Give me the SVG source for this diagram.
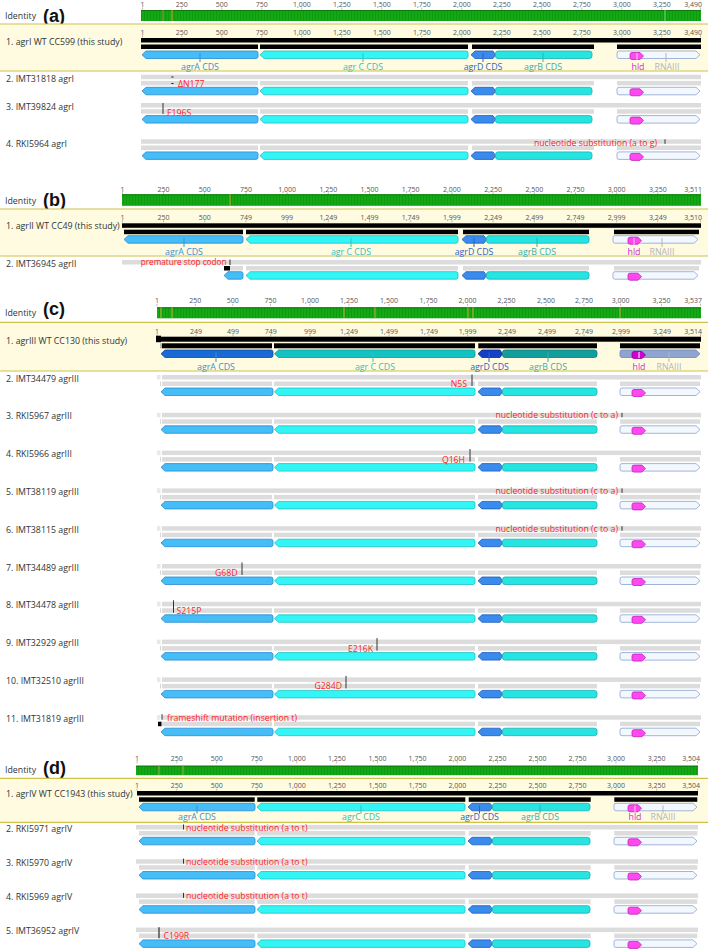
<svg xmlns="http://www.w3.org/2000/svg" width="708" height="952" viewBox="0 0 708 952">
<defs>
<style>
text{font-family:"Open Sans","Noto Sans","DejaVu Sans",sans-serif}
.rl{font-size:7px;fill:#555;text-anchor:middle}
.rle{font-size:7px;fill:#555;text-anchor:end}
.lb{font-size:8.8px;fill:#333}
.hd{font-family:"Liberation Sans",Arial,sans-serif;font-size:18px;font-weight:bold;fill:#111}
.mu{font-size:8.7px;fill:#ff2424}
.mue{font-size:8.7px;fill:#ff2424;text-anchor:end}
.gl{font-size:8.8px;text-anchor:middle}
.band{fill:#fefbe1}
.bl{stroke:#cfc24a;stroke-width:1.2}
.gr{fill:#dcdcdc}
.k{fill:#000}
.tk{stroke:#999;stroke-width:.7;fill:none}
.mt{stroke:#333;stroke-width:1}
.idb{fill:url(#idp)}
.idl{stroke:#0b7a0b;stroke-width:1}
.gA{fill:#45bdf6;stroke:#2a8ad4;stroke-width:.8}
.gC{fill:#33f5f5;stroke:#1fc2c2;stroke-width:.8}
.gD{fill:#3a8cec;stroke:#1c5cc2;stroke-width:.8}
.gB{fill:#26e4e2;stroke:#17b2b0;stroke-width:.8}
.gR{fill:#f3f8fe;stroke:#8aa3cf;stroke-width:.8}
.gH{fill:#ff48ee;stroke:#c21fc2;stroke-width:.8}
.sA{fill:#1a6ad6;stroke:#0d4aa0;stroke-width:.8}
.sC{fill:#13c2c2;stroke:#0c9999;stroke-width:.8}
.sD{fill:#1541c8;stroke:#0c2a90;stroke-width:.8}
.sB{fill:#139e9e;stroke:#0c7a7a;stroke-width:.8}
.sR{fill:#8fa4d0;stroke:#7088b8;stroke-width:.8}
.sH{fill:#d000d0;stroke:#990099;stroke-width:.8}
.cA{fill:#3d8fd6}.cC{fill:#33c0c0}.cD{fill:#2e62c8}.cB{fill:#3aacac}.cH{fill:#cc2fcc}.cR{fill:#b5b5b5}
.lA{stroke:#3d8fd6;stroke-width:1}.lC{stroke:#33c0c0;stroke-width:1}.lD{stroke:#2e62c8;stroke-width:1}.lB{stroke:#3aacac;stroke-width:1}.lH{stroke:#f0d0f0;stroke-width:1}.lR{stroke:#b5b5b5;stroke-width:1}
</style>
<pattern id="idp" width="3" height="14" patternUnits="userSpaceOnUse"><rect width="3" height="14" fill="#14a914"/><rect width="1" height="14" fill="#0f9b0f"/></pattern>

<g id="genesA">
<path class="gA" d="M142,3.75 L146,0 H256 Q258,0 258,2 V5.5 Q258,7.5 256,7.5 H146 Z"/>
<path class="gC" d="M260,3.75 L264,0 H466 Q468,0 468,2 V5.5 Q468,7.5 466,7.5 H264 Z"/>
<path class="gD" d="M471,3.75 L475,0 H493 L495.5,3.75 L493,7.5 H475 Z"/>
<rect class="gB" x="495.5" y="0" width="96.5" height="7.5" rx="2.5"/>
<path class="gR" d="M619,0 H696 L700,3.75 L696,7.5 H619 Q617,7.5 617,5.5 V2 Q617,0 619,0 Z"/>
<path class="gH" d="M632,1.5 H640 L643.5,5 L640,8.5 H632 Q630,8.5 630,6.5 V3.5 Q630,1.5 632,1.5 Z"/>
</g>
<g id="genesBrest">
<path class="gC" d="M246,3.75 L250,0 H456 Q458,0 458,2 V5.5 Q458,7.5 456,7.5 H250 Z"/>
<path class="gD" d="M462,3.75 L466,0 H484 L486.5,3.75 L484,7.5 H466 Z"/>
<rect class="gB" x="486.5" y="0" width="102.5" height="7.5" rx="2.5"/>
<path class="gR" d="M615,0 H694 L698,3.75 L694,7.5 H615 Q613,7.5 613,5.5 V2 Q613,0 615,0 Z"/>
<path class="gH" d="M630,1.5 H638 L641.5,5 L638,8.5 H630 Q628,8.5 628,6.5 V3.5 Q628,1.5 630,1.5 Z"/>
</g>
<g id="genesB">
<path class="gA" d="M124,3.75 L128,0 H241 Q243,0 243,2 V5.5 Q243,7.5 241,7.5 H128 Z"/>
<use href="#genesBrest"/>
</g>
<g id="genesC">
<path class="gA" d="M161,3.75 L165,0 H271 Q273,0 273,2 V5.5 Q273,7.5 271,7.5 H165 Z"/>
<path class="gC" d="M274.5,3.75 L278.5,0 H473 Q475,0 475,2 V5.5 Q475,7.5 473,7.5 H278.5 Z"/>
<path class="gD" d="M478,3.75 L482,0 H500 L502.5,3.75 L500,7.5 H482 Z"/>
<rect class="gB" x="502.5" y="0" width="94.5" height="7.5" rx="2.5"/>
<path class="gR" d="M622,0 H696 L700,3.75 L696,7.5 H622 Q620,7.5 620,5.5 V2 Q620,0 622,0 Z"/>
<path class="gH" d="M634,1.5 H642 L645.5,5 L642,8.5 H634 Q632,8.5 632,6.5 V3.5 Q632,1.5 634,1.5 Z"/>
</g>
<g id="genesCsel">
<path class="sA" d="M161,3.75 L165,0 H271 Q273,0 273,2 V5.5 Q273,7.5 271,7.5 H165 Z"/>
<path class="sC" d="M274.5,3.75 L278.5,0 H473 Q475,0 475,2 V5.5 Q475,7.5 473,7.5 H278.5 Z"/>
<path class="sD" d="M478,3.75 L482,0 H500 L502.5,3.75 L500,7.5 H482 Z"/>
<rect class="sB" x="502.5" y="0" width="94.5" height="7.5" rx="2.5"/>
<path class="sR" d="M622,0 H696 L700,3.75 L696,7.5 H622 Q620,7.5 620,5.5 V2 Q620,0 622,0 Z"/>
<path class="sH" d="M634,1.5 H642 L645.5,5 L642,8.5 H634 Q632,8.5 632,6.5 V3.5 Q632,1.5 634,1.5 Z"/>
</g>
<g id="genesD">
<path class="gA" d="M139,3.75 L143,0 H253 Q255,0 255,2 V5.5 Q255,7.5 253,7.5 H143 Z"/>
<path class="gC" d="M257,3.75 L261,0 H463 Q465,0 465,2 V5.5 Q465,7.5 463,7.5 H261 Z"/>
<path class="gD" d="M468,3.75 L472,0 H490 L492.5,3.75 L490,7.5 H472 Z"/>
<rect class="gB" x="492.5" y="0" width="97.5" height="7.5" rx="2.5"/>
<path class="gR" d="M616,0 H693 L697,3.75 L693,7.5 H616 Q614,7.5 614,5.5 V2 Q614,0 616,0 Z"/>
<path class="gH" d="M630,1.5 H638 L641.5,5 L638,8.5 H630 Q628,8.5 628,6.5 V3.5 Q628,1.5 630,1.5 Z"/>
</g>

<g id="rowA">
<rect class="gr" x="141" y="0" width="560" height="4.5"/>
<rect class="gr" x="141" y="6.2" width="117" height="4.5"/>
<rect class="gr" x="260" y="6.2" width="208" height="4.5"/>
<rect class="gr" x="472" y="6.2" width="122" height="4.5"/>
<rect class="gr" x="617" y="6.2" width="84" height="4.5"/>
<use href="#genesA" y="12.6"/>
</g>
<g id="rowC">
<rect fill="#e8e8e8" x="157" y="0" width="3.5" height="4.5"/>
<rect class="gr" x="162" y="0" width="539" height="4.5"/>
<line x1="160.5" y1="6.5" x2="160.5" y2="11" stroke="#ccc" stroke-width=".8"/>
<rect class="gr" x="162" y="6.5" width="110" height="4.5"/>
<rect class="gr" x="274" y="6.5" width="201" height="4.5"/>
<rect class="gr" x="478" y="6.5" width="119" height="4.5"/>
<rect class="gr" x="620" y="6.5" width="80" height="4.5"/>
<use href="#genesC" y="13"/>
</g>
<g id="rowD">
<rect class="gr" x="136" y="0" width="562" height="4.5"/>
<rect class="gr" x="139" y="6" width="115.7" height="4.5"/>
<rect class="gr" x="257.3" y="6" width="208" height="4.5"/>
<rect class="gr" x="468.7" y="6" width="122" height="4.5"/>
<rect class="gr" x="614.3" y="6" width="83" height="4.5"/>
<use href="#genesD" y="12.3"/>
</g>
</defs>

<rect width="708" height="952" fill="#fff"/>

<!-- ===================== (a) ===================== -->
<g id="a-header">
<text class="rl" y="6.5"><tspan x="142.5">1</tspan><tspan x="181.8">250</tspan><tspan x="221.8">500</tspan><tspan x="261.8">750</tspan><tspan x="301.8">1,000</tspan><tspan x="341.8">1,250</tspan><tspan x="381.8">1,500</tspan><tspan x="421.8">1,750</tspan><tspan x="461.8">2,000</tspan><tspan x="501.8">2,250</tspan><tspan x="541.8">2,500</tspan><tspan x="581.8">2,750</tspan><tspan x="621.8">3,000</tspan><tspan x="661.8">3,250</tspan></text>
<text class="rle" x="702" y="6.5">3,490</text>
<path class="tk" d="M142.5,7.5v2M181.8,7.5v2M221.8,7.5v2M261.8,7.5v2M301.8,7.5v2M341.8,7.5v2M381.8,7.5v2M421.8,7.5v2M461.8,7.5v2M501.8,7.5v2M541.8,7.5v2M581.8,7.5v2M621.8,7.5v2M661.8,7.5v2M700.5,7.5v2"/>
<rect class="idb" x="141" y="10" width="560" height="11"/>
<line class="idl" x1="141" y1="10.5" x2="701" y2="10.5"/>
<path d="M163,10v11" stroke="#8a9a40" stroke-width="1"/>
<path d="M172,10v11" stroke="#d4a020" stroke-width="1"/>
<path d="M665,10v11" stroke="#7dd07d" stroke-width="1"/>
<text class="lb" x="5" y="18.5">Identity</text>
<text class="hd" x="43" y="21.5">(a)</text>
</g>

<g id="a-row1">
<rect class="band" x="0" y="24" width="708" height="47"/>
<line class="bl" x1="0" y1="24" x2="708" y2="24"/>
<line class="bl" x1="0" y1="71" x2="708" y2="71"/>
<text class="lb" x="6" y="45">1. agrI WT CC599 (this study)</text>
<text class="rl" y="34.5"><tspan x="142.5">1</tspan><tspan x="181.8">250</tspan><tspan x="221.8">500</tspan><tspan x="261.8">750</tspan><tspan x="301.8">1,000</tspan><tspan x="341.8">1,250</tspan><tspan x="381.8">1,500</tspan><tspan x="421.8">1,750</tspan><tspan x="461.8">2,000</tspan><tspan x="501.8">2,250</tspan><tspan x="541.8">2,500</tspan><tspan x="581.8">2,750</tspan><tspan x="621.8">3,000</tspan><tspan x="661.8">3,250</tspan></text>
<text class="rle" x="702" y="34.5">3,490</text>
<path class="tk" d="M142.5,35.3v2M181.8,35.3v2M221.8,35.3v2M261.8,35.3v2M301.8,35.3v2M341.8,35.3v2M381.8,35.3v2M421.8,35.3v2M461.8,35.3v2M501.8,35.3v2M541.8,35.3v2M581.8,35.3v2M621.8,35.3v2M661.8,35.3v2M700.5,35.3v2"/>
<rect class="k" x="141" y="38" width="560" height="4.5"/>
<rect class="k" x="141" y="44.5" width="117" height="4.5"/>
<rect class="k" x="260" y="44.5" width="208" height="4.5"/>
<rect class="k" x="472" y="44.5" width="122" height="4.5"/>
<rect class="k" x="617" y="44.5" width="84" height="4.5"/>
<use href="#genesA" y="51"/>
<line class="lA" x1="200" y1="53" x2="200" y2="62"/>
<line class="lC" x1="363" y1="53" x2="363" y2="62"/>
<line class="lD" x1="483" y1="53" x2="483" y2="62"/>
<line class="lB" x1="543" y1="53" x2="543" y2="62"/>
<line class="lH" x1="637" y1="53" x2="637" y2="60"/>
<line class="lR" x1="666" y1="53" x2="666" y2="62"/>
<text class="gl cA" x="200" y="69.5">agrA CDS</text>
<text class="gl cC" x="363" y="69.5">agr C CDS</text>
<text class="gl cD" x="483" y="69.5">agrD CDS</text>
<text class="gl cB" x="543" y="69.5">agrB CDS</text>
<text class="gl cH" x="638" y="69.5">hld</text>
<text class="gl cR" x="667" y="69.5">RNAIII</text>
</g>

<g id="a-row2">
<text class="lb" x="6" y="81.5">2. IMT31818 agrI</text>
<use href="#rowA" y="74.7"/>
<path d="M171.3,77H173.5M171.3,83.5H173.5" stroke="#222" stroke-width="1"/>
<text class="mu" x="178" y="86.5">ΔN177</text>
</g>
<g id="a-row3">
<text class="lb" x="6" y="110">3. IMT39824 agrI</text>
<use href="#rowA" y="103"/>
<line class="mt" x1="163" y1="103" x2="163" y2="114"/>
<text class="mu" x="167" y="115.5">F196S</text>
</g>
<g id="a-row4">
<text class="lb" x="6" y="146.5">4. RKI5964 agrI</text>
<use href="#rowA" y="139.3"/>
<line class="mt" x1="665" y1="139.3" x2="665" y2="143.8"/>
<text class="mue" x="657" y="145.5">nucleotide substitution (a to g)</text>
</g>

<!-- ===================== (b) ===================== -->
<g id="b-header">
<text class="rl" y="191.5"><tspan x="122.5">1</tspan><tspan x="163.5">250</tspan><tspan x="204.7">500</tspan><tspan x="245.9">750</tspan><tspan x="287.1">1,000</tspan><tspan x="328.3">1,250</tspan><tspan x="369.5">1,500</tspan><tspan x="410.7">1,750</tspan><tspan x="451.9">2,000</tspan><tspan x="493.1">2,250</tspan><tspan x="534.3">2,500</tspan><tspan x="575.5">2,750</tspan><tspan x="616.7">3,000</tspan><tspan x="657.8">3,250</tspan></text>
<text class="rle" x="702" y="191.5">3,511</text>
<path class="tk" d="M122.5,192.3v2M163.5,192.3v2M204.7,192.3v2M245.9,192.3v2M287.1,192.3v2M328.3,192.3v2M369.5,192.3v2M410.7,192.3v2M451.9,192.3v2M493.1,192.3v2M534.3,192.3v2M575.5,192.3v2M616.7,192.3v2M657.8,192.3v2M700.5,192.3v2"/>
<rect class="idb" x="122" y="194.3" width="579" height="11.5"/>
<line class="idl" x1="122" y1="194.8" x2="701" y2="194.8"/>
<path d="M230,194.3v11.5" stroke="#d4a020" stroke-width="1"/>
<text class="lb" x="5" y="203.5">Identity</text>
<text class="hd" x="43" y="205.5">(b)</text>
</g>

<g id="b-row1">
<rect class="band" x="0" y="209" width="708" height="47"/>
<line class="bl" x1="0" y1="209" x2="708" y2="209"/>
<line class="bl" x1="0" y1="256" x2="708" y2="256"/>
<text class="lb" x="6" y="229">1. agrII WT CC49 (this study)</text>
<text class="rl" y="219.5"><tspan x="122.5">1</tspan><tspan x="163.5">250</tspan><tspan x="204.7">500</tspan><tspan x="245.9">749</tspan><tspan x="287.1">999</tspan><tspan x="328.3">1,249</tspan><tspan x="369.5">1,499</tspan><tspan x="410.7">1,749</tspan><tspan x="451.9">1,999</tspan><tspan x="493.1">2,249</tspan><tspan x="534.3">2,499</tspan><tspan x="575.5">2,749</tspan><tspan x="616.7">2,999</tspan><tspan x="657.8">3,249</tspan></text>
<text class="rle" x="702" y="219.5">3,510</text>
<path class="tk" d="M122.5,220.3v2M163.5,220.3v2M204.7,220.3v2M245.9,220.3v2M287.1,220.3v2M328.3,220.3v2M369.5,220.3v2M410.7,220.3v2M451.9,220.3v2M493.1,220.3v2M534.3,220.3v2M575.5,220.3v2M616.7,220.3v2M657.8,220.3v2M700.5,220.3v2"/>
<rect class="k" x="122" y="223.3" width="579" height="4.5"/>
<rect class="k" x="124" y="229.7" width="119" height="4.5"/>
<rect class="k" x="246" y="229.7" width="212" height="4.5"/>
<rect class="k" x="463" y="229.7" width="126" height="4.5"/>
<rect class="k" x="614" y="229.7" width="85" height="4.5"/>
<use href="#genesB" y="235.7"/>
<line class="lA" x1="184" y1="238" x2="184" y2="247"/>
<line class="lC" x1="351" y1="238" x2="351" y2="247"/>
<line class="lD" x1="474" y1="238" x2="474" y2="247"/>
<line class="lB" x1="537" y1="238" x2="537" y2="247"/>
<line class="lH" x1="634" y1="238" x2="634" y2="245"/>
<line class="lR" x1="662" y1="238" x2="662" y2="247"/>
<text class="gl cA" x="184" y="255">agrA CDS</text>
<text class="gl cC" x="351" y="255">agr C CDS</text>
<text class="gl cD" x="474" y="255">agrD CDS</text>
<text class="gl cB" x="537" y="255">agrB CDS</text>
<text class="gl cH" x="634" y="255">hld</text>
<text class="gl cR" x="662" y="255">RNAIII</text>
</g>

<g id="b-row2">
<text class="lb" x="6" y="266.5">2. IMT36945 agrII</text>
<rect class="gr" x="122" y="260" width="579" height="4.5"/>
<rect class="gr" x="230" y="266" width="13" height="4.5"/>
<rect class="gr" x="246" y="266" width="212" height="4.5"/>
<rect class="gr" x="463" y="266" width="126" height="4.5"/>
<rect class="gr" x="614" y="266" width="85" height="4.5"/>
<rect class="k" x="224" y="266" width="6" height="4.5"/>
<line class="mt" x1="230" y1="259.5" x2="230" y2="265"/>
<text class="mue" x="226.5" y="265.3" style="font-size:8.2px">premature stop codon</text>
<path class="gA" d="M224,275.45 L228,271.7 H241 Q243,271.7 243,273.7 V277.2 Q243,279.2 241,279.2 H228 Z"/>
<use href="#genesBrest" y="271.7"/>
</g>

<!-- ===================== (c) ===================== -->
<g id="c-header">
<text class="rl" y="303"><tspan x="157">1</tspan><tspan x="195.3">250</tspan><tspan x="232.8">500</tspan><tspan x="270.5">750</tspan><tspan x="310">1,000</tspan><tspan x="349">1,250</tspan><tspan x="389">1,500</tspan><tspan x="428.5">1,750</tspan><tspan x="467.5">2,000</tspan><tspan x="506.5">2,250</tspan><tspan x="546">2,500</tspan><tspan x="584">2,750</tspan><tspan x="620.7">3,000</tspan><tspan x="661.5">3,250</tspan></text>
<text class="rle" x="702" y="303">3,537</text>
<path class="tk" d="M157,303.8v2M195.3,303.8v2M232.8,303.8v2M270.5,303.8v2M310,303.8v2M349,303.8v2M389,303.8v2M428.5,303.8v2M467.5,303.8v2M506.5,303.8v2M546,303.8v2M584,303.8v2M620.7,303.8v2M661.5,303.8v2M700.5,303.8v2"/>
<rect class="idb" x="157" y="307.3" width="544" height="11"/>
<line class="idl" x1="157" y1="307.8" x2="701" y2="307.8"/>
<path d="M161,307.3v11M172,307.3v11M344,307.3v11M375,307.3v11M468,307.3v11M473,307.3v11M620,307.3v11" stroke="#c8b030" stroke-width="1"/>
<text class="lb" x="5" y="316">Identity</text>
<text class="hd" x="43" y="314.5">(c)</text>
</g>

<g id="c-row1">
<rect class="band" x="0" y="322.3" width="708" height="48.7"/>
<line class="bl" x1="0" y1="322.3" x2="708" y2="322.3"/>
<line class="bl" x1="0" y1="371" x2="708" y2="371"/>
<text class="lb" x="6" y="343.5">1. agrIII WT CC130 (this study)</text>
<text class="rl" y="333.5"><tspan x="157">1</tspan><tspan x="196">249</tspan><tspan x="233">499</tspan><tspan x="270.7">749</tspan><tspan x="310">999</tspan><tspan x="349">1,249</tspan><tspan x="389">1,499</tspan><tspan x="429">1,749</tspan><tspan x="467.7">1,999</tspan><tspan x="507">2,249</tspan><tspan x="547">2,499</tspan><tspan x="584">2,749</tspan><tspan x="621">2,999</tspan><tspan x="662">3,249</tspan></text>
<text class="rle" x="702" y="333.5">3,514</text>
<path class="tk" d="M157,334.3v2M196,334.3v2M233,334.3v2M270.7,334.3v2M310,334.3v2M349,334.3v2M389,334.3v2M429,334.3v2M467.7,334.3v2M507,334.3v2M547,334.3v2M584,334.3v2M621,334.3v2M662,334.3v2M700.5,334.3v2"/>
<rect class="k" x="156" y="335.7" width="5" height="6.5"/>
<rect class="k" x="156" y="336.7" width="545" height="5"/>
<line x1="161" y1="343.3" x2="161" y2="348.3" stroke="#555" stroke-width=".8"/>
<rect class="k" x="162" y="343.3" width="110" height="5"/>
<rect class="k" x="274" y="343.3" width="201" height="5"/>
<rect class="k" x="478.3" y="343.3" width="118.7" height="5"/>
<rect class="k" x="620" y="343.3" width="80" height="5"/>
<use href="#genesCsel" y="350"/>
<line class="lA" x1="216" y1="352.5" x2="216" y2="362"/>
<line class="lC" x1="373" y1="352.5" x2="373" y2="362"/>
<line class="lD" x1="489" y1="352.5" x2="489" y2="362"/>
<line class="lB" x1="548" y1="352.5" x2="548" y2="362"/>
<line stroke="#fff" stroke-width="1" x1="639" y1="352" x2="639" y2="358"/>
<line class="lR" x1="669" y1="352.5" x2="669" y2="362"/>
<text class="gl cA" x="216" y="369.5">agrA CDS</text>
<text class="gl cC" x="375" y="369.5">agr C CDS</text>
<text class="gl cD" x="489.5" y="369.5">agrD CDS</text>
<text class="gl cB" x="548" y="369.5">agrB CDS</text>
<text class="gl cH" x="639" y="369.5">hld</text>
<text class="gl cR" x="669" y="369.5">RNAIII</text>
</g>

<g id="c-row2">
<text class="lb" x="6" y="381.5">2. IMT34479 agrIII</text>
<use href="#rowC" y="375"/>
<line class="mt" x1="472" y1="374.5" x2="472" y2="386"/>
<text class="mue" x="467" y="387">N5S</text>
</g>
<g id="c-row3">
<text class="lb" x="6" y="419.3">3. RKI5967 agrIII</text>
<use href="#rowC" y="412.8"/>
<line class="mt" x1="622" y1="412.8" x2="622" y2="417.3"/>
<text class="mue" x="618" y="418.3">nucleotide substitution (c to a)</text>
</g>
<g id="c-row4">
<text class="lb" x="6" y="457.1">4. RKI5966 agrIII</text>
<use href="#rowC" y="450.6"/>
<line class="mt" x1="470" y1="449" x2="470" y2="461.6"/>
<text class="mue" x="465" y="462.5">Q16H</text>
</g>
<g id="c-row5">
<text class="lb" x="6" y="494.9">5. IMT38119 agrIII</text>
<use href="#rowC" y="488.4"/>
<line class="mt" x1="622" y1="488.4" x2="622" y2="492.9"/>
<text class="mue" x="618" y="493.9">nucleotide substitution (c to a)</text>
</g>
<g id="c-row6">
<text class="lb" x="6" y="532.7">6. IMT38115 agrIII</text>
<use href="#rowC" y="526.2"/>
<line class="mt" x1="622" y1="526.2" x2="622" y2="530.7"/>
<text class="mue" x="618" y="531.7">nucleotide substitution (c to a)</text>
</g>
<g id="c-row7">
<text class="lb" x="6" y="570.5">7. IMT34489 agrIII</text>
<use href="#rowC" y="564"/>
<line class="mt" x1="242" y1="562.5" x2="242" y2="575"/>
<text class="mue" x="237.5" y="576">G68D</text>
</g>
<g id="c-row8">
<text class="lb" x="6" y="608.3">8. IMT34478 agrIII</text>
<use href="#rowC" y="601.8"/>
<line class="mt" x1="173.5" y1="600.3" x2="173.5" y2="612.8"/>
<text class="mu" x="176.5" y="613.8">S215P</text>
</g>
<g id="c-row9">
<text class="lb" x="6" y="646.1">9. IMT32929 agrIII</text>
<use href="#rowC" y="639.6"/>
<line class="mt" x1="377" y1="638.1" x2="377" y2="650.6"/>
<text class="mue" x="373" y="651.6">E216K</text>
</g>
<g id="c-row10">
<text class="lb" x="6" y="683.9">10. IMT32510 agrIII</text>
<use href="#rowC" y="677.4"/>
<line class="mt" x1="346" y1="675.9" x2="346" y2="688.4"/>
<text class="mue" x="342" y="689.4">G284D</text>
</g>
<g id="c-row11">
<text class="lb" x="6" y="721.7">11. IMT31819 agrIII</text>
<use href="#rowC" y="715.2"/>
<line class="mt" x1="162" y1="714.2" x2="162" y2="719.7"/>
<rect class="k" x="158" y="721.7" width="3.5" height="4.5"/>
<text class="mu" x="167" y="720.7">frameshift mutation (insertion t)</text>
</g>

<!-- ===================== (d) ===================== -->
<g id="d-header">
<text class="rl" y="760.5"><tspan x="137">1</tspan><tspan x="176.8">250</tspan><tspan x="216.8">500</tspan><tspan x="256.8">750</tspan><tspan x="296.8">1,000</tspan><tspan x="336.8">1,250</tspan><tspan x="377.5">1,500</tspan><tspan x="417.5">1,750</tspan><tspan x="457.3">2,000</tspan><tspan x="497.5">2,250</tspan><tspan x="537.5">2,500</tspan><tspan x="577.5">2,750</tspan><tspan x="616">3,000</tspan><tspan x="656.7">3,250</tspan></text>
<text class="rle" x="700" y="760.5">3,504</text>
<path class="tk" d="M137,761.3v2M176.8,761.3v2M216.8,761.3v2M256.8,761.3v2M296.8,761.3v2M336.8,761.3v2M377.5,761.3v2M417.5,761.3v2M457.3,761.3v2M497.5,761.3v2M537.5,761.3v2M577.5,761.3v2M616,761.3v2M656.7,761.3v2M697.5,761.3v2"/>
<rect class="idb" x="136" y="765.7" width="562" height="9.5"/>
<line class="idl" x1="136" y1="766.2" x2="698" y2="766.2"/>
<path d="M159,765.7v9.5M183,765.7v9.5" stroke="#a0b040" stroke-width="1"/>
<text class="lb" x="5" y="773">Identity</text>
<text class="hd" x="43" y="774">(d)</text>
</g>

<g id="d-row1">
<rect class="band" x="0" y="778.3" width="708" height="44"/>
<line class="bl" x1="0" y1="778.3" x2="708" y2="778.3"/>
<line class="bl" x1="0" y1="822.3" x2="708" y2="822.3"/>
<text class="lb" x="6" y="797">1. agrIV WT CC1943 (this study)</text>
<text class="rl" y="788"><tspan x="137">1</tspan><tspan x="176.8">250</tspan><tspan x="216.8">500</tspan><tspan x="256.8">750</tspan><tspan x="296.8">1,000</tspan><tspan x="336.8">1,250</tspan><tspan x="377.5">1,500</tspan><tspan x="417.5">1,750</tspan><tspan x="457.3">2,000</tspan><tspan x="497.5">2,250</tspan><tspan x="537.5">2,500</tspan><tspan x="577.5">2,750</tspan><tspan x="616">3,000</tspan><tspan x="656.7">3,250</tspan></text>
<text class="rle" x="700" y="788">3,504</text>
<path class="tk" d="M137,788.6v2M176.8,788.6v2M216.8,788.6v2M256.8,788.6v2M296.8,788.6v2M336.8,788.6v2M377.5,788.6v2M417.5,788.6v2M457.3,788.6v2M497.5,788.6v2M537.5,788.6v2M577.5,788.6v2M616,788.6v2M656.7,788.6v2M697.5,788.6v2"/>
<rect class="k" x="137" y="791" width="561" height="4.5"/>
<rect class="k" x="139" y="797.3" width="115.7" height="4.5"/>
<rect class="k" x="257.3" y="797.3" width="208" height="4.5"/>
<rect class="k" x="468.7" y="797.3" width="122" height="4.5"/>
<rect class="k" x="614.3" y="797.3" width="83" height="4.5"/>
<use href="#genesD" y="803.3"/>
<line class="lA" x1="197" y1="805.5" x2="197" y2="813.5"/>
<line class="lC" x1="361" y1="805.5" x2="361" y2="813.5"/>
<line class="lD" x1="479.5" y1="805.5" x2="479.5" y2="813.5"/>
<line class="lB" x1="540" y1="805.5" x2="540" y2="813.5"/>
<line class="lH" x1="635" y1="805.5" x2="635" y2="812"/>
<line class="lR" x1="663" y1="805.5" x2="663" y2="813.5"/>
<text class="gl cA" x="197" y="820.3">agrA CDS</text>
<text class="gl cC" x="361" y="820.3">agrC CDS</text>
<text class="gl cD" x="479.5" y="820.3">agrD CDS</text>
<text class="gl cB" x="540" y="820.3">agrB CDS</text>
<text class="gl cH" x="635" y="820.3">hld</text>
<text class="gl cR" x="663" y="820.3">RNAIII</text>
</g>

<g id="d-row2">
<text class="lb" x="6" y="831.5">2. RKI5971 agrIV</text>
<use href="#rowD" y="825"/>
<line class="mt" x1="183.5" y1="824.5" x2="183.5" y2="829.5"/>
<text class="mu" x="186" y="831.2">nucleotide substitution (a to t)</text>
</g>
<g id="d-row3">
<text class="lb" x="6" y="865.7">3. RKI5970 agrIV</text>
<use href="#rowD" y="859.2"/>
<line class="mt" x1="183.5" y1="858.7" x2="183.5" y2="863.7"/>
<text class="mu" x="186" y="864.9">nucleotide substitution (a to t)</text>
</g>
<g id="d-row4">
<text class="lb" x="6" y="899.9">4. RKI5969 agrIV</text>
<use href="#rowD" y="893.4"/>
<line class="mt" x1="183.5" y1="892.9" x2="183.5" y2="897.9"/>
<text class="mu" x="186" y="899.1">nucleotide substitution (a to t)</text>
</g>
<g id="d-row5">
<text class="lb" x="6" y="934.1">5. IMT36952 agrIV</text>
<use href="#rowD" y="927.6"/>
<line x1="159" y1="927.3" x2="159" y2="938.3" stroke="#444" stroke-width="1.4"/>
<text class="mu" x="163.5" y="939.3">C199R</text>
</g>
</svg>
